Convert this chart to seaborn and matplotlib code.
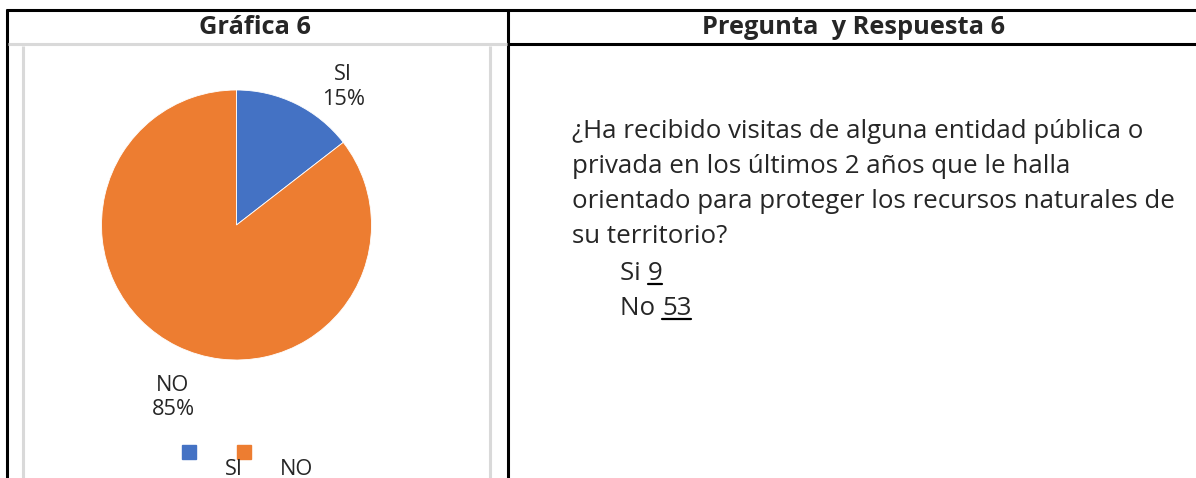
import matplotlib

matplotlib.use("Agg")
import matplotlib.pyplot as plt
import seaborn as sns

# data
categories = ["SI", "NO"]
counts = [9, 53]
pct_labels = ["15%", "85%"]
colors = ["#4472C4", "#ED7D31"]

question_lines = [
    "¿Ha recibido visitas de alguna entidad pública o",
    "privada en los últimos 2 años que le halla",
    "orientado para proteger los recursos naturales de",
    "su territorio?",
]
answers = [("Si", "9"), ("No", "53")]

W, H = 1196, 478
FONT = "Open Sans"

sns.set_theme(style="white")
plt.rcParams["font.family"] = [FONT, "DejaVu Sans"]

fig = plt.figure(figsize=(W / 100, H / 100), dpi=100)
ax = fig.add_axes([0, 0, 1, 1])
ax.set_xlim(0, W)
ax.set_ylim(H, 0)
ax.axis("off")
renderer = fig.canvas.get_renderer()


def fit_size(s, width, weight="normal", start=15.0):
    # font size giving a text of about `width` pixels
    t = ax.text(0, 0, s, fontsize=start, fontweight=weight)
    w = t.get_window_extent(renderer).width
    t.remove()
    return start * width / w


# table frame
black = dict(color="black", lw=2.2, solid_capstyle="butt")
grey = dict(color="#D9D9D9", lw=2.2, solid_capstyle="butt")
ax.plot([6, W], [10, 10], **black)
ax.plot([7, 7], [9, H], **black)
ax.plot([508, 508], [9, H], **black)
ax.plot([508, W], [44, 44], **black)
ax.plot([8, 507], [44, 44], **grey)
ax.plot([23, 23], [46, H], **grey)
ax.plot([490, 490], [46, H], **grey)

# headers
hs = fit_size("Gráfica 6", 112, "bold")
ax.text(255, 34, "Gráfica 6", ha="center", va="baseline", fontsize=hs, fontweight="bold")
ax.text(854, 34, "Pregunta  y Respuesta 6", ha="center", va="baseline", fontsize=hs,
        fontweight="bold")

# pie
cx, cy, r = 236.5, 225, 135
pax = fig.add_axes([(cx - r) / W, 1 - (cy + r) / H, 2 * r / W, 2 * r / H])
pax.pie(counts, colors=colors, startangle=90, counterclock=False,
        wedgeprops=dict(edgecolor="white", linewidth=0.6))
pax.set_xlim(-1, 1)
pax.set_ylim(-1, 1)
pax.set_aspect("equal")
pax.axis("off")

ls = fit_size("15%", 43)
ax.text(343, 80, categories[0], ha="center", va="baseline", fontsize=ls)
ax.text(344, 105, pct_labels[0], ha="center", va="baseline", fontsize=ls)
ax.text(172, 391, categories[1], ha="center", va="baseline", fontsize=ls)
ax.text(173, 415, pct_labels[1], ha="center", va="baseline", fontsize=ls)

# legend (as laid out in the source)
for x0, c in zip([182, 237], colors):
    ax.add_patch(plt.Rectangle((x0, 445), 14, 14, color=c))
ax.text(234, 475, categories[0], ha="center", va="baseline", fontsize=ls)
ax.text(297, 475, categories[1], ha="center", va="baseline", fontsize=ls)

# question text
qs = fit_size(question_lines[0], 572)
base = [138, 173, 208, 243]
for y, line in zip(base, question_lines):
    ax.text(572, y, line, ha="left", va="baseline", fontsize=qs)

inv = ax.transData.inverted()
for y, (lab, num) in zip([280, 315], answers):
    t = ax.text(620, y, lab + " ", ha="left", va="baseline", fontsize=qs)
    bb = t.get_window_extent(renderer)
    x1 = inv.transform((bb.x1, bb.y0))[0]
    n = ax.text(x1, y, num, ha="left", va="baseline", fontsize=qs)
    nb = n.get_window_extent(renderer)
    nx0 = inv.transform((nb.x0, nb.y0))[0]
    nx1 = inv.transform((nb.x1, nb.y0))[0]
    ax.plot([nx0, nx1], [y + 4, y + 4], color="black", lw=1.6)

fig.savefig("out.png", dpi=100)
